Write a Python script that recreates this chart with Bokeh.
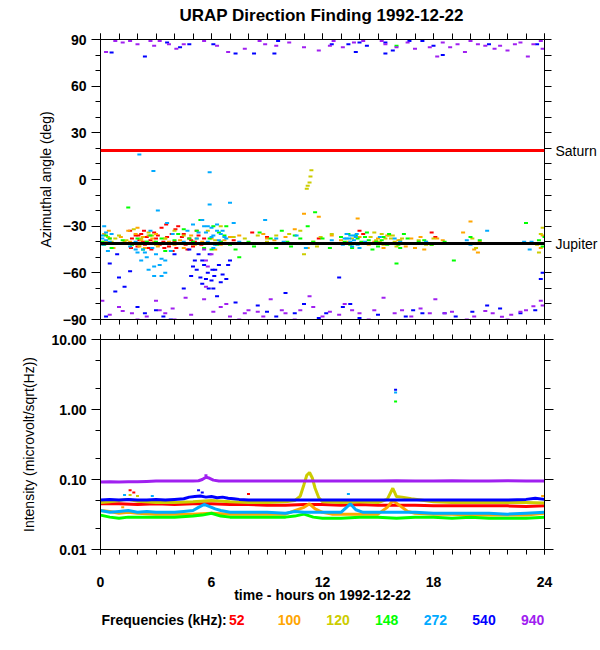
import numpy as np
from bokeh.plotting import figure
from bokeh.models import (Range1d, LinearAxis, LogAxis, FixedTicker, CustomJSTickFormatter,
                          PrintfTickFormatter, Span)
from bokeh.core.properties import value
from bokeh.layouts import column
from bokeh.embed import file_html
from bokeh.resources import INLINE

# ---------------- data ----------------
TITLE = "URAP Direction Finding  1992-12-22"
X_TITLE = "time - hours on 1992-12-22"
Y1_TITLE = "Azimuthal angle (deg)"
Y2_TITLE = "Intensity (microvolt/sqrt(Hz))"
LEGEND_TITLE = "Frequencies (kHz):"

FREQS = ["52", "100", "120", "148", "272", "540", "940"]
COLORS = ["#ff0000", "#ffa500", "#cccc00", "#00ff00", "#00aaff", "#0000ff", "#a020f0"]

HOUR_RANGE = (0, 24)
HOUR_TICKS = [0, 6, 12, 18, 24]
HOUR_MINOR = list(range(0, 25))
ANGLE_RANGE = (-90, 90)
ANGLE_TICKS = [-90, -60, -30, 0, 30, 60, 90]
ANGLE_MINOR = list(range(-90, 91, 10))
INT_RANGE = (0.01, 10)
INT_TICKS = [0.01, 0.1, 1, 10]
INT_MINOR = [0.02, 0.05, 0.2, 0.5, 2, 5]

PLANETS = ["Saturn", "Jupiter"]
PLANET_ANGLES = [18.6, -41.2]
PLANET_COLORS = ["#ff0000", "black"]

# azimuth scatter (hour, degrees)
AZ_52 = [(1.6, -33), (1.7, -38), (1.8, -41), (1.9, -36), (2.0, -43), (2.1, -39), (2.2, -35),
         (2.3, -40), (2.4, -42), (2.5, -37), (2.6, -44), (2.7, -39), (2.8, -41), (2.9, -34),
         (3.0, -38), (3.2, -42), (3.3, -31), (3.4, -40), (3.6, -37), (3.7, -43), (3.9, -46),
         (4.0, -40), (4.2, -30), (4.4, -37), (4.6, -42), (4.8, -38), (4.9, -39), (5.1, -40),
         (5.3, -36), (5.6, -38), (6.0, -41), (6.5, -40), (7.2, -39), (8.2, -34), (9.0, -37),
         (11.8, -38), (14.0, -33), (14.2, -35), (17.9, -34), (18.1, -37),
         (1.65, -44), (2.05, -36), (2.35, -33), (2.75, -45), (3.1, -36), (3.45, -44),
         (3.85, -35), (4.1, -44), (4.3, -41), (4.5, -35), (4.7, -45), (5.0, -43), (5.2, -33),
         (5.45, -42), (3.55, -29), (4.05, -32)]
AZ_100 = [(0.2, -35), (0.3, -40), (0.5, -38), (0.8, -41), (1.1, -37), (1.5, -33), (1.6, -40),
          (1.7, -42), (2.0, -31), (2.1, -43), (2.2, -39), (2.4, -44), (2.6, -36), (2.8, -38),
          (2.9, -40), (3.1, -43), (3.3, -41), (3.5, -38), (4.0, -42), (4.5, -44), (4.9, -36),
          (5.5, -40), (6.2, -45), (6.7, -39), (7.0, -37), (7.5, -36), (8.0, -41), (8.8, -35),
          (9.4, -39), (10.0, -37), (10.5, -32), (11.0, -22), (11.2, -44), (11.8, -24),
          (12.5, -36), (13.4, -40), (13.9, -25), (14.5, -42), (15.0, -38), (15.5, -36),
          (16.1, -39), (16.5, -43), (17.0, -44), (17.3, -37), (17.6, -40), (17.9, -42),
          (18.5, -39), (19.6, -34), (20.0, -27), (20.2, -45), (20.5, -40), (23.8, -44), (23.9, -36),
          (0.15, -42), (0.45, -33), (0.7, -44), (1.3, -40), (1.9, -35), (2.3, -37), (3.0, -35),
          (3.7, -40), (4.3, -39), (5.1, -42), (6.0, -38), (6.5, -42), (9.0, -38), (12.0, -41),
          (13.0, -39), (14.0, -37), (14.8, -40), (15.3, -44), (16.0, -41), (16.8, -38),
          (17.5, -45), (18.2, -38), (20.4, -47)]
AZ_120 = [(0.4, -37), (0.6, -40), (1.0, -36), (1.8, -32), (2.1, -42), (2.2, -38), (2.5, -40),
          (2.6, -34), (2.8, -36), (3.0, -42), (4.5, -36), (5.2, -38), (5.8, -33), (6.5, -30),
          (7.2, -37), (8.5, -36), (9.5, -36), (10.2, -35), (10.8, -33), (11.0, -48),
          (11.15, -6), (11.2, -4), (11.3, -2), (11.35, 2), (11.4, 6), (11.5, -40), (11.7, -43),
          (12.5, -35), (14.6, -37), (14.8, -34), (15.1, -40), (15.2, -35), (15.4, -38),
          (15.5, -41), (15.7, -38), (15.8, -36), (16.0, -43), (16.2, -39), (16.3, -38),
          (17.2, -39), (17.6, -42), (20.1, -38), (20.3, -44), (23.7, -47), (23.8, -35), (23.9, -31),
          (0.2, -40), (0.8, -38), (1.4, -39), (3.5, -38), (4.0, -33), (5.0, -41), (6.2, -39),
          (7.8, -38), (9.0, -40), (11.9, -37), (13.6, -38), (14.2, -41), (14.9, -39),
          (15.3, -42), (15.6, -36), (15.9, -40), (16.5, -41), (18.0, -38), (23.6, -42)]
AZ_148 = [(0.1, -40), (0.3, -36), (0.6, -44), (1.5, -18), (1.7, -42), (2.0, -38), (2.3, -45),
          (2.7, -36), (3.0, -40), (3.5, -46), (4.2, -35), (4.5, -32), (5.0, -40), (5.2, -33),
          (5.4, -26), (5.5, -41), (5.6, -44), (5.9, -38), (6.0, -45), (6.1, -30), (6.3, -42),
          (6.4, -34), (6.7, -36), (6.8, -30), (7.0, -42), (7.5, -50), (8.6, -34), (9.2, -38),
          (9.5, -44), (9.8, -33), (10.1, -40), (10.5, -36), (11.2, -30), (11.6, -21),
          (12.0, -38), (13.0, -37), (13.2, -40), (13.4, -35), (13.5, -42), (13.6, -44),
          (13.8, -36), (13.9, -38), (14.1, -40), (14.3, -37), (14.4, -34), (14.7, -45),
          (15.0, -43), (15.2, -39), (15.3, -37), (15.6, -35), (15.7, -41), (16.0, -54),
          (16.1, -42), (16.2, -44), (16.4, -35), (16.6, -38), (17.2, -40), (17.9, -42),
          (18.6, -40), (19.1, -52), (20.0, -37), (20.2, -41), (23.0, -28), (23.7, -39),
          (24.0, -37), (16.0, 86),
          (0.2, -42), (0.5, -38), (0.8, -41), (1.2, -39), (1.9, -41), (2.5, -40), (3.3, -38),
          (4.0, -39), (4.8, -38), (6.5, -40), (7.3, -45), (8.0, -40), (8.3, -43), (9.0, -41),
          (10.3, -43), (10.8, -38), (11.5, -40), (12.4, -44), (12.8, -41), (14.5, -39),
          (14.9, -40), (15.5, -42), (16.8, -41), (17.5, -39), (20.5, -39), (23.5, -41), (23.9, -43)]
AZ_272 = [(0.1, -38), (0.1, -36), (0.15, -42), (0.2, -30), (0.3, -34), (0.3, -39), (0.4, -46),
          (0.6, -35), (1.9, -40), (1.9, -45), (2.1, 16), (2.2, -52), (2.3, -45), (2.4, -47),
          (2.5, -50), (2.6, -58), (2.7, -33), (2.86, 5.5), (2.9, -56), (2.9, -62), (3.0, -48),
          (3.1, -20), (3.3, -62), (3.3, -51), (3.5, -52), (3.5, -60), (3.6, -28), (3.9, -35),
          (4.7, -33), (5.0, -29), (5.2, -38), (5.5, -26), (5.6, -30), (5.7, -34), (5.8, -40),
          (5.9, 4.6), (5.9, -16), (6.0, -37), (6.0, -31), (6.1, -36), (6.2, -42), (6.3, -29),
          (6.4, -39), (6.5, -35), (6.6, -33), (6.8, -38), (6.9, -41), (7.0, -15), (7.2, -28),
          (8.9, -26), (9.9, -40), (10.6, -36), (11.1, -44), (13.2, -38), (13.3, -35),
          (13.3, -38), (13.4, -41), (13.5, -40), (13.5, -36), (13.6, -43), (13.7, -36),
          (13.7, -39), (13.8, -37), (13.9, -42), (14.0, -44), (15.1, -37), (15.9, -38),
          (17.6, -40), (20.0, -42), (20.9, -33), (22.9, -40), (23.2, -45),
          (0.25, -41), (0.5, -40), (1.6, -43), (2.0, -47), (2.8, -44), (3.2, -55), (3.8, -46),
          (4.5, -40), (5.3, -34), (5.8, -30), (6.1, -44), (6.3, -33), (6.7, -37), (7.5, -40),
          (9.5, -38), (12.5, -39), (13.1, -42), (13.45, -38), (13.65, -41), (13.85, -35),
          (14.3, -40), (16.2, -40), (19.8, -39), (23.3, -40)]
AZ_540 = [(0.5, -54), (0.8, -72), (0.9, -48), (1.0, -63), (1.3, -69), (1.6, -59), (2.0, -82),
          (2.4, -86), (3.0, -84), (3.4, -88), (4.0, -48), (4.5, -70), (5.1, -52), (5.2, -58),
          (5.4, -63), (5.5, -67), (5.6, -55), (5.8, -60), (5.9, -48), (6.0, -65), (6.1, -70),
          (6.2, -58), (6.3, -75), (6.6, -61), (6.8, -64), (6.9, -55), (7.0, -52), (7.3, -79),
          (8.5, -81), (9.0, -85), (10.0, -73), (10.5, -86), (11.0, -80), (12.9, -63),
          (13.1, -82), (13.5, -80), (14.0, -89), (15.0, -87), (16.5, -88), (18.6, -86),
          (20.1, -85), (21.6, -83), (22.7, -86), (23.8, -64), (23.9, -60),
          (4.8, -45), (5.0, -56), (5.3, -48), (5.5, -52), (5.7, -64), (5.85, -70), (6.05, -58),
          (6.15, -62), (6.4, -55), (6.5, -66), (4.9, -62), (3.8, -90), (9.5, -88), (11.8, -89),
          (12.2, -86), (16.9, -84), (17.4, -86), (19.2, -88), (20.9, -81), (23.5, -84), (0.3, -88),
          (0.6, 81.6), (2.4, 79), (3.6, 88), (4.3, 85), (4.8, 87), (6.1, 87), (7.3, 81),
          (8.3, 81), (9.4, 81), (9.6, 89), (12.5, 87), (13.4, 87), (13.8, 82), (14.0, 88),
          (14.4, 86), (15.4, 88), (15.4, 81), (15.8, 83), (16.7, 89), (17.4, 89), (18.0, 86),
          (18.5, 80), (21.0, 87), (23.6, 87)]
AZ_940 = [(0.3, 82), (0.8, 89), (1.2, 88), (1.6, 89), (2.0, 87), (2.7, 89), (2.9, 86), (3.2, 89),
          (3.7, 87), (4.1, 84), (4.5, 87), (5.6, 89), (6.3, 86), (6.9, 82), (7.8, 84), (8.6, 89),
          (8.9, 87), (9.5, 86), (10.2, 88), (11.0, 85), (11.8, 83), (12.4, 86), (12.6, 89),
          (13.1, 85), (13.7, 88), (14.2, 89), (15.2, 89), (15.4, 87), (16.0, 85), (16.6, 88),
          (17.0, 84), (17.8, 85), (18.2, 79), (18.5, 88), (18.9, 85), (19.3, 87), (19.7, 82),
          (20.0, 89), (20.4, 87), (20.8, 86), (21.3, 84), (21.6, 86), (22.0, 83), (22.4, 87),
          (22.7, 88), (23.1, 79), (23.4, 87), (23.8, 89), (23.9, 84),
          (0.1, -78), (1.0, -82), (1.2, -84.5), (1.7, -86), (3.0, -78), (3.2, -84), (3.9, -83),
          (4.6, -76), (4.9, -87), (5.6, -77), (5.7, -69), (6.1, -85), (6.5, -82), (7.0, -88),
          (7.8, -86), (8.5, -85), (9.2, -77), (9.8, -84), (11.3, -75), (11.5, -82), (12.4, -85),
          (12.9, -87), (13.6, -84), (15.3, -76), (15.9, -86), (16.3, -84), (17.3, -83),
          (18.1, -77), (18.6, -86), (20.8, -84.5), (21.7, -88.3), (22.7, -85), (23.4, -81.5),
          (23.8, -78), (23.9, -81), (2.0, -90), (4.0, -90), (7.5, -90), (10.5, -90),
          (14.5, -90), (19.8, -90), (22.0, -90), (5.6, -45), (5.7, -52), (5.8, -56), (6.0, -48),
          (0.5, -87), (2.5, -88), (3.5, -86), (6.8, -80), (8.0, -84), (8.8, -88), (10.0, -86),
          (10.8, -84), (12.0, -88), (13.2, -80), (14.0, -86), (14.8, -84), (16.8, -88),
          (17.8, -86), (19.0, -85), (20.2, -88), (21.2, -86), (22.2, -87), (23.0, -84)]
AZIMUTHS = [AZ_52, AZ_100, AZ_120, AZ_148, AZ_272, AZ_540, AZ_940]

# intensity traces (hours, microvolt/sqrt(Hz))
T_52 = [0, 1, 2, 3, 4, 5, 6, 7, 8, 9, 10, 11, 12, 13, 14, 15, 16, 17, 18, 19, 20, 21, 22, 23, 24]
I_52 = [0.045, 0.045, 0.044, 0.045, 0.044, 0.045, 0.045, 0.044, 0.044, 0.043, 0.043, 0.044, 0.044,
        0.043, 0.044, 0.043, 0.043, 0.043, 0.042, 0.042, 0.042, 0.042, 0.042, 0.041, 0.042]
T_100 = [0, 0.5, 1, 1.5, 2, 3, 4, 5, 6, 7, 8, 9, 10, 10.5, 11, 11.3, 11.6, 12, 12.5, 13, 14, 15,
         15.5, 15.8, 16.2, 16.6, 17, 18, 19, 20, 21, 22, 23, 24]
I_100 = [0.036, 0.035, 0.033, 0.034, 0.033, 0.032, 0.032, 0.032, 0.033, 0.032, 0.032, 0.032, 0.032,
         0.036, 0.040, 0.045, 0.038, 0.034, 0.032, 0.032, 0.032, 0.032, 0.040, 0.050, 0.042, 0.035,
         0.033, 0.032, 0.032, 0.031, 0.031, 0.031, 0.031, 0.033]
T_120 = [0, 0.5, 1, 1.5, 2, 3, 4, 5, 6, 7, 8, 9, 10, 10.5, 10.8, 11.0, 11.15, 11.3, 11.45, 11.6,
         11.8, 12, 13, 14, 15, 15.5, 15.8, 16.0, 16.3, 16.8, 17.5, 18, 19, 20, 21, 22, 23, 24]
I_120 = [0.047, 0.048, 0.050, 0.052, 0.049, 0.047, 0.047, 0.048, 0.050, 0.048, 0.047, 0.047, 0.048,
         0.050, 0.058, 0.085, 0.115, 0.126, 0.105, 0.075, 0.055, 0.048, 0.047, 0.048, 0.047, 0.052,
         0.075, 0.057, 0.056, 0.053, 0.050, 0.048, 0.047, 0.047, 0.047, 0.047, 0.047, 0.046]
T_148 = [0, 0.5, 1, 1.5, 2, 3, 4, 5, 5.5, 6, 6.5, 7, 8, 9, 10, 10.5, 11, 11.5, 12, 13, 14, 15, 16,
         17, 18, 19, 20, 21, 22, 23, 24]
I_148 = [0.031, 0.029, 0.028, 0.029, 0.029, 0.029, 0.029, 0.030, 0.031, 0.033, 0.030, 0.029, 0.029,
         0.029, 0.029, 0.030, 0.032, 0.029, 0.028, 0.028, 0.029, 0.029, 0.028, 0.029, 0.029, 0.028,
         0.029, 0.028, 0.028, 0.028, 0.029]
T_272 = [0, 0.5, 1, 1.5, 2, 2.5, 3, 3.5, 4, 4.5, 5, 5.3, 5.6, 5.9, 6.2, 6.5, 7, 8, 9, 10, 10.5, 11,
         12, 13, 13.3, 13.5, 13.8, 14.2, 15, 16, 17, 18, 19, 20, 21, 22, 23, 24]
I_272 = [0.036, 0.034, 0.035, 0.036, 0.034, 0.035, 0.034, 0.034, 0.034, 0.035, 0.036, 0.040, 0.044,
         0.041, 0.038, 0.036, 0.034, 0.034, 0.034, 0.033, 0.035, 0.034, 0.034, 0.034, 0.040, 0.045,
         0.037, 0.034, 0.034, 0.034, 0.034, 0.033, 0.033, 0.033, 0.033, 0.032, 0.033, 0.034]
T_540 = [0, 0.5, 1, 1.5, 2, 2.5, 3, 3.5, 4, 4.5, 4.8, 5.1, 5.4, 5.7, 6.0, 6.3, 6.6, 6.9, 7.2, 7.5,
         8, 9, 10, 11, 12, 13, 14, 15, 16, 17, 18, 19, 20, 21, 22, 23, 23.5, 24]
I_540 = [0.051, 0.052, 0.051, 0.052, 0.051, 0.051, 0.052, 0.051, 0.052, 0.053, 0.056, 0.057, 0.058,
         0.056, 0.057, 0.055, 0.056, 0.054, 0.053, 0.052, 0.051, 0.051, 0.051, 0.051, 0.051, 0.051,
         0.051, 0.051, 0.051, 0.051, 0.051, 0.051, 0.051, 0.051, 0.051, 0.052, 0.054, 0.052]
T_940 = [0, 0.5, 1, 1.5, 2, 2.5, 3, 3.5, 4, 4.5, 5, 5.3, 5.5, 5.7, 5.9, 6.1, 6.4, 7, 8, 9, 10, 11,
         12, 13, 14, 15, 16, 17, 18, 19, 20, 21, 22, 23, 24]
I_940 = [0.092, 0.093, 0.092, 0.093, 0.093, 0.094, 0.095, 0.095, 0.095, 0.095, 0.095, 0.096, 0.100,
         0.108, 0.104, 0.098, 0.095, 0.095, 0.095, 0.095, 0.095, 0.095, 0.095, 0.095, 0.095, 0.095,
         0.096, 0.095, 0.095, 0.096, 0.095, 0.095, 0.096, 0.095, 0.095]
TRACES = [(T_52, I_52), (T_100, I_100), (T_120, I_120), (T_148, I_148),
          (T_272, I_272), (T_540, I_540), (T_940, I_940)]

# isolated intensity samples (hours, value)
SP_52 = [(1.6, 0.070), (1.8, 0.065), (8.0, 0.062)]
SP_100 = [(1.2, 0.040), (23.9, 0.058)]
SP_120 = [(1.6, 0.060), (2.0, 0.058)]
SP_148 = [(15.95, 1.30)]
SP_272 = [(1.3, 0.060), (2.8, 0.058), (13.4, 0.062), (15.95, 1.75)]
SP_540 = [(5.3, 0.070), (5.5, 0.065), (15.95, 1.92)]
SP_940 = [(5.7, 0.115)]
SPIKES = [SP_52, SP_100, SP_120, SP_148, SP_272, SP_540, SP_940]

# ---------------- styling helpers ----------------
FONT = "Liberation Sans"
W = 600
LEFT = 100
FRAME_W = 449
RIGHT = W - LEFT - FRAME_W


def axis(cls, ticks, minor, out_major, out_minor, labels=False, fmt=None):
    ax = cls(ticker=FixedTicker(ticks=ticks, minor_ticks=minor))
    ax.major_tick_in = 0
    ax.minor_tick_in = 0
    ax.major_tick_out = out_major
    ax.minor_tick_out = out_minor
    ax.axis_line_color = "black"
    ax.major_tick_line_color = "black"
    ax.minor_tick_line_color = "black"
    if labels:
        ax.major_label_text_font = FONT
        ax.major_label_text_font_size = "14px"
        ax.major_label_text_font_style = "bold"
        ax.major_label_text_color = "black"
        if fmt is not None:
            ax.formatter = fmt
    else:
        ax.formatter = CustomJSTickFormatter(code="return ''")
        ax.major_label_text_font_size = "0px"
        ax.major_label_standoff = 0
    return ax


def axis_title(ax, text, standoff, bold=False):
    ax.axis_label = text
    ax.axis_label_text_font = FONT
    ax.axis_label_text_font_size = "14px"
    ax.axis_label_text_font_style = "bold" if bold else "normal"
    ax.axis_label_text_color = "black"
    ax.axis_label_standoff = standoff


def base_fig(height, top, bottom, y_range, y_type):
    p = figure(width=W, height=height, x_range=Range1d(*HOUR_RANGE), y_range=y_range,
               y_axis_type=y_type, x_axis_location=None, y_axis_location=None,
               output_backend="svg", toolbar_location=None,
               min_border_left=LEFT, min_border_right=RIGHT,
               min_border_top=top, min_border_bottom=bottom)
    p.outline_line_color = None
    p.background_fill_color = "white"
    p.border_fill_color = "white"
    p.grid.visible = False
    return p


def text_strip(height):
    # frames in a column are aligned with the panels' frames, so x is page pixels
    p = figure(width=W, height=height, x_range=Range1d(LEFT, LEFT + FRAME_W),
               y_range=Range1d(height, 0), x_axis_location=None, y_axis_location=None,
               output_backend="svg", toolbar_location=None,
               min_border_left=LEFT, min_border_right=RIGHT, min_border_top=0, min_border_bottom=0)
    p.outline_line_color = None
    p.background_fill_color = "white"
    p.border_fill_color = "white"
    p.grid.visible = False
    return p


# ---------------- header (title) ----------------
head = text_strip(25)
head.text(x=[326], y=[15], text=[TITLE], text_align="center",
          text_baseline="alphabetic", text_font=value(FONT), text_font_size=value("17px"),
          text_font_style="bold", text_color="black")

# ---------------- top panel ----------------
p1 = base_fig(304, 14, 10, Range1d(*ANGLE_RANGE), "linear")
ly1 = axis(LinearAxis, ANGLE_TICKS, ANGLE_MINOR, 9, 5, labels=True)
axis_title(ly1, Y1_TITLE, 6)
p1.add_layout(ly1, "left")
ry1 = axis(LinearAxis, PLANET_ANGLES, ANGLE_MINOR, 0, 7, labels=True)
ry1.major_label_overrides = {a: n for a, n in zip(PLANET_ANGLES, PLANETS)}
ry1.major_label_text_font_style = "normal"
ry1.major_label_standoff = 4
p1.add_layout(ry1, "right")
p1.add_layout(axis(LinearAxis, HOUR_TICKS, HOUR_MINOR, 6, 6), "above")
p1.add_layout(axis(LinearAxis, HOUR_TICKS, HOUR_MINOR, 5, 5), "below")

for pts, col in zip(AZIMUTHS, COLORS):
    t, a = zip(*pts)
    p1.rect(x=list(t), y=list(a), width=4, height=2, width_units="screen",
            height_units="screen", fill_color=col, line_color=None)

for ang, col in zip(PLANET_ANGLES, PLANET_COLORS):
    p1.add_layout(Span(location=ang, dimension="width", line_color=col, line_width=3))

# ---------------- bottom panel ----------------
p2 = base_fig(276, 10, 56, Range1d(*INT_RANGE), "log")
ly2 = axis(LogAxis, INT_TICKS, INT_MINOR, 9, 5, labels=True, fmt=PrintfTickFormatter(format="%.2f"))
axis_title(ly2, Y2_TITLE, 11)
p2.add_layout(ly2, "left")
p2.add_layout(axis(LogAxis, INT_TICKS, INT_MINOR, 9, 6), "right")
p2.add_layout(axis(LinearAxis, HOUR_TICKS, HOUR_MINOR, 5, 5), "above")
bx = axis(LinearAxis, HOUR_TICKS, HOUR_MINOR, 5, 5, labels=True)
bx.major_label_standoff = 22
axis_title(bx, X_TITLE, -3, bold=True)
p2.add_layout(bx, "below")

for (t, v), col in zip(TRACES, COLORS):
    p2.line(x=t, y=v, line_color=col, line_width=3)
for pts, col in zip(SPIKES, COLORS):
    t, v = zip(*pts)
    p2.rect(x=list(t), y=list(v), width=3, height=2, width_units="screen",
            height_units="screen", fill_color=col, line_color=None)

# ---------------- footer (frequency key) ----------------
foot = text_strip(40)
foot.text(x=[LEFT + 1], y=[14], text=[LEGEND_TITLE], text_align="left",
          text_baseline="alphabetic", text_font=value(FONT), text_font_size=value("14px"),
          text_font_style="bold", text_color="black")
foot.text(x=[LEFT + 130 + 49.2 * k for k in range(len(FREQS))], y=[14] * len(FREQS),
          text=FREQS, text_align="left", text_baseline="alphabetic", text_font=value(FONT),
          text_font_size=value("14px"), text_font_style="bold", text_color=COLORS)

layout = column(head, p1, p2, foot, spacing=0)
open("out.html", "w").write(file_html(layout, INLINE))
